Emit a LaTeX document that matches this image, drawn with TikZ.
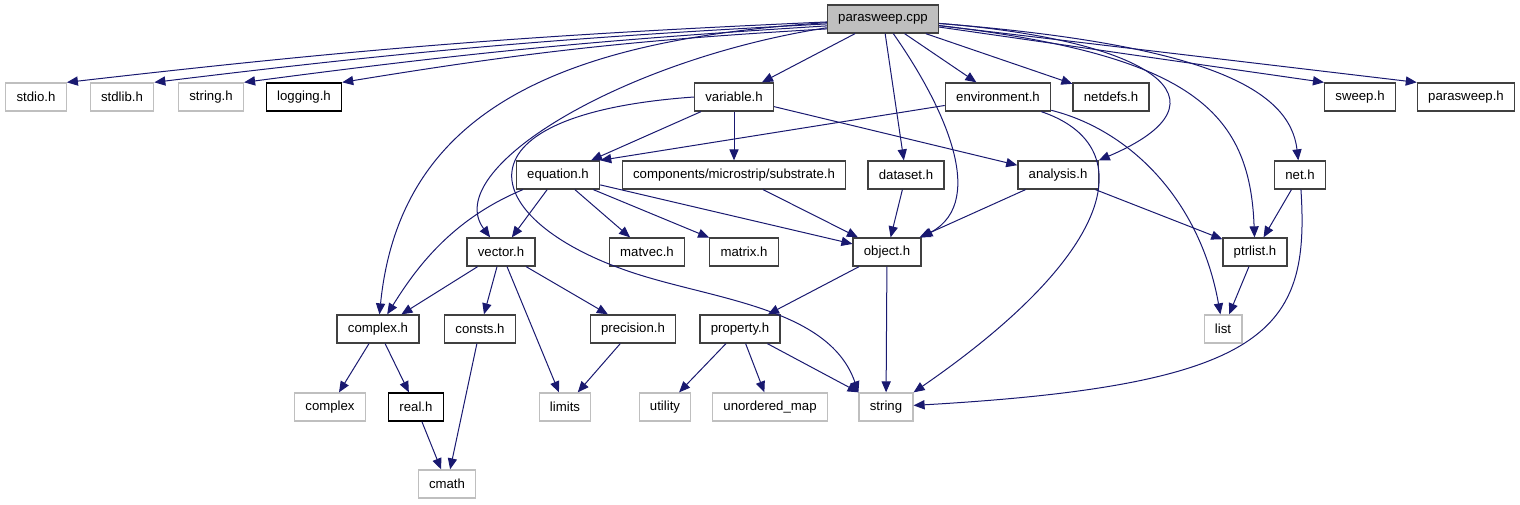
\documentclass[tikz,border=0pt]{standalone}
\usepackage{fontspec}
\setsansfont{Liberation Sans}
\usetikzlibrary{arrows.meta}
\definecolor{edgeblue}{HTML}{191970}
\definecolor{sysgray}{HTML}{BFBFBF}
\definecolor{boxgray}{HTML}{404040}

\begin{document}
\begin{tikzpicture}[
  x=0.5pt, y=-0.5pt,
  >={Triangle[length=5.5pt,width=4.6pt]},
  font=\sffamily\fontsize{6.6}{7.6}\selectfont,
  dep/.style={->, draw=edgeblue, fill=none, line width=0.5pt},
  hdr/.style={
    draw=boxgray, line width=0.65pt, fill=white,
    inner xsep=5.4pt, inner ysep=0pt, minimum height=14pt
  },
  hdrdoc/.style={hdr, draw=black},
  sys/.style={hdr, draw=sysgray},
  rootfile/.style={hdr, fill=sysgray}
]
\useasboundingbox (0,0) rectangle (1520,504);

% the source file
\node[rootfile] (pcpp) at (883,19) {parasweep.cpp};

% first level includes
\node[sys] (stdio) at (36,97) {stdio.h};
\node[sys] (stdlib) at (122,97) {stdlib.h};
\node[sys] (strh) at (211,97) {string.h};
\node[hdrdoc] (logging) at (304,97) {logging.h};
\node[hdr] (variable) at (734,97) {variable.h};
\node[hdr] (environment) at (998,97) {environment.h};
\node[hdr] (netdefs) at (1111,97) {netdefs.h};
\node[hdr] (sweep) at (1360,97) {sweep.h};
\node[hdr] (psweeph) at (1466,97) {parasweep.h};

\node[hdr] (equation) at (558,175) {equation.h};
\node[hdr] (substrate) at (734,175) {components/microstrip/substrate.h};
\node[hdr] (dataset) at (906,175) {dataset.h};
\node[hdr] (analysis) at (1058,175) {analysis.h};
\node[hdr] (net) at (1300,175) {net.h};

\node[hdr] (vector) at (501,252) {vector.h};
\node[hdr] (matvec) at (647,252) {matvec.h};
\node[hdr] (matrix) at (744,252) {matrix.h};
\node[hdr] (object) at (887,252) {object.h};
\node[hdr] (ptrlist) at (1255,252) {ptrlist.h};

\node[hdr] (complexh) at (378,329) {complex.h};
\node[hdr] (consts) at (480,329) {consts.h};
\node[hdr] (precision) at (633,329) {precision.h};
\node[hdr] (property) at (740,329) {property.h};
\node[sys] (list) at (1223,329) {list};

% system headers at the bottom
\node[sys] (complex) at (330,407) {complex};
\node[hdrdoc] (realh) at (416,407) {real.h};
\node[sys] (limits) at (565,407) {limits};
\node[sys] (utility) at (665,407) {utility};
\node[sys] (umap) at (770,407) {unordered\_map};
\node[sys] (string) at (886,407) {string};
\node[sys] (cmath) at (447,484) {cmath};

% parasweep.cpp includes
\draw[dep] (pcpp.183) to[bend right=2] (stdio.north east);
\draw[dep] (pcpp.185) to[bend right=2] (stdlib.north east);
\draw[dep] (pcpp.187) to[bend right=2] (strh.north east);
\draw[dep] (pcpp.190) to[bend right=3] (logging.north east);
\draw[dep] (pcpp) .. controls (560,40) and (400,110) .. (complexh);
\draw[dep] (pcpp) .. controls (620,60) and (440,170) .. (vector);
\draw[dep] (pcpp) -- (variable);
\draw[dep] (pcpp) -- (dataset);
\draw[dep] (pcpp) .. controls (940,100) and (990,200) .. (object.north east);
\draw[dep] (pcpp) -- (environment);
\draw[dep] (pcpp) -- (netdefs);
\draw[dep] (pcpp) .. controls (1150,40) and (1240,100) .. (analysis.north east);
\draw[dep] (pcpp) .. controls (1190,55) and (1250,110) .. (ptrlist);
\draw[dep] (pcpp) .. controls (1210,45) and (1290,90) .. (net);
\draw[dep] (pcpp) -- (sweep.north west);
\draw[dep] (pcpp) -- (psweeph.north west);

% second level
\draw[dep] (variable) -- (equation);
\draw[dep] (variable) -- (substrate);
\draw[dep] (variable) -- (analysis);
\draw[dep] (variable.west) .. controls (440,115) and (480,225) .. (640,275)
  .. controls (720,300) and (830,310) .. (string.north west);
\draw[dep] (environment) -- (equation.north east);
\draw[dep] (environment) .. controls (1140,145) and (1120,250) .. (string.north east);
\draw[dep] (environment) .. controls (1130,130) and (1200,200) .. (list);

\draw[dep] (equation) .. controls (450,220) and (415,270) .. (complexh);
\draw[dep] (equation) -- (vector);
\draw[dep] (equation) -- (matvec);
\draw[dep] (equation) -- (matrix);
\draw[dep] (equation) -- (object);
\draw[dep] (substrate) -- (object);
\draw[dep] (dataset) -- (object);
\draw[dep] (analysis) -- (object);
\draw[dep] (analysis) -- (ptrlist);
\draw[dep] (net) -- (ptrlist);
\draw[dep] (net) .. controls (1310,330) and (1270,385) .. (string);

% third level and below
\draw[dep] (vector) -- (complexh);
\draw[dep] (vector) -- (consts);
\draw[dep] (vector) -- (limits);
\draw[dep] (vector) -- (precision);
\draw[dep] (object) -- (property);
\draw[dep] (object) -- (string);
\draw[dep] (ptrlist) -- (list);
\draw[dep] (complexh) -- (complex);
\draw[dep] (complexh) -- (realh);
\draw[dep] (consts) -- (cmath);
\draw[dep] (precision) -- (limits);
\draw[dep] (property) -- (utility);
\draw[dep] (property) -- (umap);
\draw[dep] (property) -- (string);
\draw[dep] (realh) -- (cmath);

\end{tikzpicture}
\end{document}
